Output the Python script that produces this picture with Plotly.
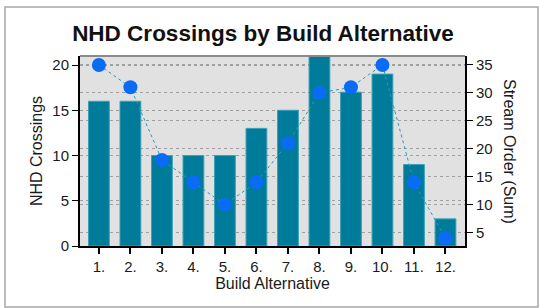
import plotly.graph_objects as go

categories = ["1.", "2.", "3.", "4.", "5.", "6.", "7.", "8.", "9.", "10.", "11.", "12."]
nhd_crossings = [16, 16, 10, 10, 10, 13, 15, 21, 17, 19, 9, 3]
stream_order_sum = [35, 31, 18, 14, 10, 14, 21, 30, 31, 35, 14, 4]

xpos = list(range(len(categories)))

fig = go.Figure()
fig.add_trace(go.Bar(
    x=xpos, y=nhd_crossings, width=0.66,
    marker=dict(color="#007b99", line=dict(color="#3aa0b8", width=1)),
    yaxis="y", showlegend=False,
))
fig.add_trace(go.Scatter(
    x=xpos, y=stream_order_sum, mode="lines+markers",
    line=dict(color="#2a9ab8", width=1, dash="dot"),
    marker=dict(color="#0a6cf5", size=14, line=dict(width=0)),
    yaxis="y2", showlegend=False, cliponaxis=False,
))

font = "Liberation Sans, Arial, sans-serif"
fig.update_layout(
    width=539, height=308,
    margin=dict(l=80, r=74, t=56, b=62),
    paper_bgcolor="white", plot_bgcolor="#e1e1e1",
    font=dict(family=font, size=15, color="#1a1a1a"),
    title=dict(text="<b>NHD Crossings by Build Alternative</b>", x=(263-80)/385, xref="paper", xanchor="center",
               y=1 - 33/308, yanchor="middle", font=dict(size=22.5, color="#111")),
    xaxis=dict(range=[-0.6, 11.62], tickmode="array", tickvals=xpos, ticktext=categories,
               showgrid=False, ticks="outside", ticklen=6, tickwidth=2, tickcolor="black",
               showline=True, linecolor="black", linewidth=2, zeroline=False,
               title=dict(text="Build Alternative", standoff=4, font=dict(size=16))),
    yaxis=dict(range=[0, 21], tickvals=[0, 5, 10, 15, 20], showgrid=True,
               gridcolor="#a0a0a0", griddash="dot", gridwidth=1,
               ticks="outside", ticklen=6, tickwidth=1, tickcolor="black",
               showline=True, linecolor="black", linewidth=2, zeroline=False,
               title=dict(text="NHD Crossings", standoff=6, font=dict(size=16))),
    yaxis2=dict(range=[2.6, 36.6], tickvals=[5, 10, 15, 20, 25, 30, 35], overlaying="y", side="right",
                showgrid=True, gridcolor="#a0a0a0", griddash="dot", gridwidth=1,
                ticks="outside", ticklen=6, tickwidth=1, tickcolor="black",
                showline=True, linecolor="black", linewidth=2, zeroline=False),
    bargap=0.34,
    shapes=[
        dict(type="line", xref="paper", yref="paper", x0=0, x1=1, y0=1, y1=1,
             line=dict(color="#8a8a8a", width=2)),
        dict(type="rect", xref="paper", yref="paper",
             x0=-75/385, x1=(538-80)/385, y0=1 + 49/190, y1=-61/190,
             line=dict(color="#a8a8a8", width=1.5)),
    ],
    annotations=[
        dict(text="Stream Order (Sum)", textangle=90, xref="paper", yref="paper",
             x=(510-80)/385, y=0.5, showarrow=False, xanchor="center", yanchor="middle",
             font=dict(size=16, color="#1a1a1a")),
    ],
)

fig.write_html("out.html", config={"displayModeBar": False},
               post_script="document.body.style.margin='0';document.body.style.overflow='hidden';")
